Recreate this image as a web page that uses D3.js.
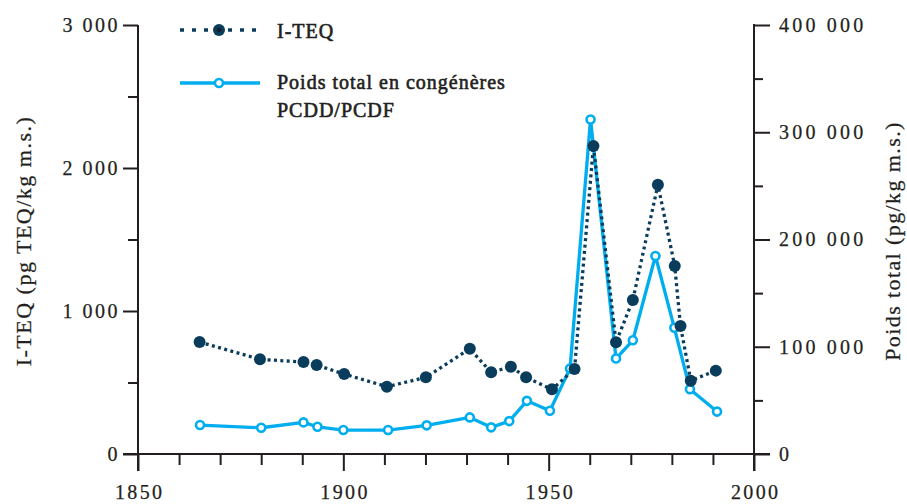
<!DOCTYPE html>
<html>
<head>
<meta charset="utf-8">
<script src="https://cdn.jsdelivr.net/npm/d3@7"></script>
<style>
  html, body { margin: 0; padding: 0; background: #fff; }
  svg { display: block; }
  text { font-family: "Liberation Serif", "DejaVu Serif", serif; fill: #231f20; }
</style>
</head>
<body>
<svg id="chart" width="907" height="504"></svg>
<script>
// Sediment core dating (years) and measured values
const yearsTEQ = [1865, 1879.7, 1890.3, 1893.5, 1900.2, 1910.6, 1920.1, 1930.8, 1936, 1940.8, 1944.5,
                  1950.8, 1956.3, 1960.9, 1966.4, 1970.5, 1976.6, 1980.7, 1982.1, 1984.6, 1990.7];
const valuesTEQ = [783, 662, 643, 622, 559, 471, 536, 736, 571, 610, 536,
                   452, 594, 2154, 781, 1077, 1883, 1315, 895, 513, 583];

const yearsTotal = [1865.1, 1880, 1890.3, 1893.7, 1900, 1910.9, 1920.3, 1930.8, 1936, 1940.4, 1944.7,
                    1950.3, 1955.2, 1960.2, 1966.4, 1970.5, 1976, 1980.6, 1984.4, 1991];
const valuesTotal = [26977, 24465, 29487, 25395, 22326, 22326, 26697, 34138, 24836, 30698, 49580,
                     40278, 79718, 311897, 89020, 106046, 184645, 117670, 60465, 39534];

const xTicks = [1850, 1900, 1950, 2000];
const leftTicks = [0, 1000, 2000, 3000];
const rightTicks = [0, 100000, 200000, 300000, 400000];

const labelTEQ = "I-TEQ";
const labelTotal = ["Poids total en congénères", "PCDD/PCDF"];
const titleLeft = "I-TEQ (pg TEQ/kg m.s.)";
const titleRight = "Poids total (pg/kg m.s.)";

const ink = "#231f20";
const dark = "#0a3d5c";
const cyan = "#00aeef";

const svg = d3.select("#chart");
const plotL = 138, plotR = 754, plotT = 25, plotB = 454;

const x = d3.scaleLinear().domain([1850, 2000]).range([plotL, plotR]);
const yL = d3.scaleLinear().domain([0, 3000]).range([plotB, plotT]);
const yR = d3.scaleLinear().domain([0, 400000]).range([plotB, plotT]);

// French-style thousands separator (space)
const fmt = v => d3.format(",")(v).replace(/,/g, " ");

// wide old-style serif look for tick labels
function styleTickText(sel, spacing) {
  sel.selectAll("text")
    .attr("font-size", "20px").attr("fill", ink)
    .style("font-family", "Liberation Serif")
    .style("letter-spacing", spacing)
    .attr("stroke", ink).attr("stroke-width", 0.25);
}

// ---- Axes ----
// x axis: minor ticks every 10 years, major every 50
const gx = svg.append("g").attr("transform", `translate(0,${plotB})`);
gx.call(d3.axisBottom(x).tickValues(d3.range(1860, 2000, 10).filter(v => v % 50 !== 0))
  .tickSize(11).tickFormat(""));
gx.call(g => g.select(".domain").remove());
gx.append("g").call(d3.axisBottom(x).tickValues(xTicks).tickSize(17).tickFormat(d3.format("d")).tickPadding(14))
  .call(g => g.select(".domain").remove());
gx.selectAll("line").attr("stroke", ink).attr("stroke-width", 2);
styleTickText(gx, "2.4px");
gx.selectAll("text").attr("dx", "1.2px");
gx.append("line").attr("x1", plotL - 15).attr("x2", plotR + 16).attr("y1", 0).attr("y2", 0)
  .attr("stroke", ink).attr("stroke-width", 2);

// left axis
const gl = svg.append("g").attr("transform", `translate(${plotL},0)`);
gl.call(d3.axisLeft(yL).tickValues([500, 1500, 2500]).tickSize(10).tickFormat(""))
  .call(g => g.select(".domain").remove());
gl.append("g").call(d3.axisLeft(yL).tickValues(leftTicks).tickSize(15).tickPadding(3).tickFormat(fmt))
  .call(g => g.select(".domain").remove());
gl.selectAll("line").attr("stroke", ink).attr("stroke-width", 2);
styleTickText(gl, "2.5px");
gl.append("line").attr("x1", 0).attr("x2", 0).attr("y1", plotT).attr("y2", plotB + 17)
  .attr("stroke", ink).attr("stroke-width", 2);

// right axis
const gr = svg.append("g").attr("transform", `translate(${plotR},0)`);
gr.call(d3.axisRight(yR).tickValues([50000, 150000, 250000, 350000]).tickSize(9).tickFormat(""))
  .call(g => g.select(".domain").remove());
gr.append("g").call(d3.axisRight(yR).tickValues(rightTicks).tickSize(16).tickPadding(9).tickFormat(fmt))
  .call(g => g.select(".domain").remove());
gr.selectAll("line").attr("stroke", ink).attr("stroke-width", 2);
styleTickText(gr, "3.2px");
gr.append("line").attr("x1", 0).attr("x2", 0).attr("y1", plotT - 1).attr("y2", plotB + 17)
  .attr("stroke", ink).attr("stroke-width", 2);

// axis titles
svg.append("text").attr("transform", `translate(31,241) rotate(-90)`)
  .attr("text-anchor", "middle").attr("font-size", "22px").style("letter-spacing", "1.5px")
  .attr("stroke", ink).attr("stroke-width", 0.25).text(titleLeft);
svg.append("text").attr("transform", `translate(900,241) rotate(-90)`)
  .attr("text-anchor", "middle").attr("font-size", "22px").style("letter-spacing", "1.4px")
  .attr("stroke", ink).attr("stroke-width", 0.25).text(titleRight);

// ---- Series ----
const teq = yearsTEQ.map((yr, i) => ({ yr, v: valuesTEQ[i] }));
const tot = yearsTotal.map((yr, i) => ({ yr, v: valuesTotal[i] }));

svg.append("path").datum(tot)
  .attr("fill", "none").attr("stroke", cyan).attr("stroke-width", 3.3).attr("stroke-linejoin", "round")
  .attr("d", d3.line().x(d => x(d.yr)).y(d => yR(d.v)));

svg.append("path").datum(teq)
  .attr("fill", "none").attr("stroke", dark).attr("stroke-width", 3.3).attr("stroke-dasharray", "3 3.4")
  .attr("d", d3.line().x(d => x(d.yr)).y(d => yL(d.v)));

svg.append("g").selectAll("circle").data(tot).join("circle")
  .attr("cx", d => x(d.yr)).attr("cy", d => yR(d.v)).attr("r", 4)
  .attr("fill", "#fff").attr("stroke", cyan).attr("stroke-width", 2.6);

svg.append("g").selectAll("circle").data(teq).join("circle")
  .attr("cx", d => x(d.yr)).attr("cy", d => yL(d.v)).attr("r", 6)
  .attr("fill", dark);

// ---- Legend ----
const legendText = sel => sel.attr("font-size", "20px").style("letter-spacing", "1px")
  .attr("stroke", ink).attr("stroke-width", 0.6);

const lg = svg.append("g");
lg.append("line").attr("x1", 180).attr("x2", 257).attr("y1", 30).attr("y2", 30)
  .attr("stroke", dark).attr("stroke-width", 3.5).attr("stroke-dasharray", "4 8");
lg.append("circle").attr("cx", 219).attr("cy", 30).attr("r", 6).attr("fill", dark);
lg.append("circle").attr("cx", 219).attr("cy", 30).attr("r", 2.2).attr("fill", "#1b1b2a");
lg.append("text").attr("x", 277).attr("y", 38).call(legendText).text(labelTEQ);

lg.append("line").attr("x1", 180).attr("x2", 260).attr("y1", 83).attr("y2", 83)
  .attr("stroke", cyan).attr("stroke-width", 3.5);
lg.append("circle").attr("cx", 219).attr("cy", 83).attr("r", 4).attr("fill", "#fff")
  .attr("stroke", cyan).attr("stroke-width", 2.6);
lg.append("text").attr("x", 277).attr("y", 89).call(legendText).text(labelTotal[0]);
lg.append("text").attr("x", 277).attr("y", 117).call(legendText).text(labelTotal[1]);
</script>
</body>
</html>
